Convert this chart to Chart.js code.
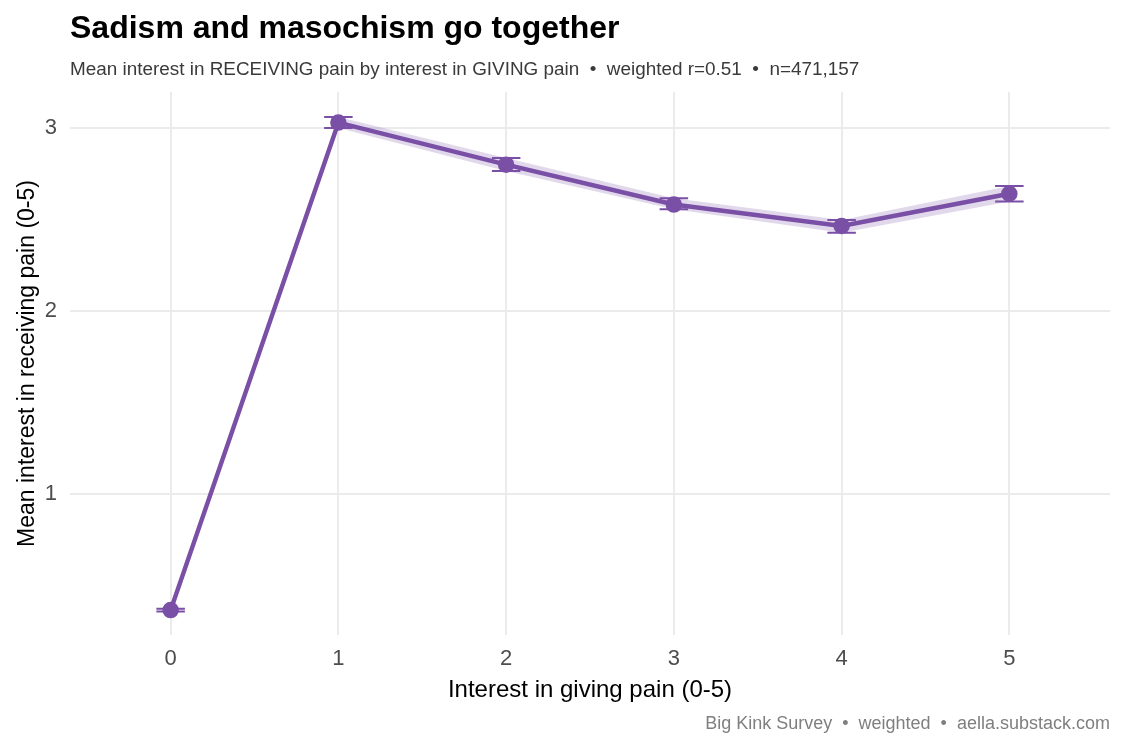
<!DOCTYPE html>
<html>
<head>
<meta charset="utf-8">
<script src="https://cdn.jsdelivr.net/npm/chart.js@4.4.1/dist/chart.umd.min.js"></script>
<style>
  body { margin: 0; background: #fff; font-family: "Liberation Sans", Arial, sans-serif; }
  #wrap { position: relative; width: 1125px; height: 750px; }
  #chart { position: absolute; left: 0; top: 0; }
  .title { position: absolute; left: 70px; top: 9px; font-size: 32px; font-weight: bold; color: #000; white-space: nowrap; }
  .subtitle { position: absolute; left: 70px; top: 58px; font-size: 18.9px; color: #3a3a3a; white-space: nowrap; }
  .caption { position: absolute; right: 15px; top: 713px; font-size: 18px; color: #7f7f7f; white-space: nowrap; }
</style>
</head>
<body>
<div id="wrap">
  <canvas id="chart" width="1125" height="750"></canvas>
  <div class="title">Sadism and masochism go together</div>
  <div class="subtitle">Mean interest in RECEIVING pain by interest in GIVING pain &nbsp;•&nbsp; weighted r=0.51 &nbsp;•&nbsp; n=471,157</div>
  <div class="caption">Big Kink Survey &nbsp;•&nbsp; weighted &nbsp;•&nbsp; aella.substack.com</div>
</div>
<script>
const givingLevels = [0, 1, 2, 3, 4, 5];
const meanReceiving = [0.366, 3.03, 2.80, 2.582, 2.465, 2.641];
const ciLow = [0.358, 3.000, 2.765, 2.557, 2.428, 2.598];
const ciHigh = [0.374, 3.060, 2.836, 2.617, 2.497, 2.683];
const xTicks = [0, 1, 2, 3, 4, 5];
const yTicks = [1, 2, 3];

const purple = "#7a4fa6";
const ribbon = "rgba(122, 79, 166, 0.22)";
const capHalf = 0.085;

// error bars as one gapped line: top cap, stem, bottom cap per level
const errorBarPoints = [];
givingLevels.forEach((x, i) => {
    errorBarPoints.push({ x: x - capHalf, y: ciHigh[i] }, { x: x + capHalf, y: ciHigh[i] }, { x: x, y: null });
    errorBarPoints.push({ x: x, y: ciHigh[i] }, { x: x, y: ciLow[i] }, { x: x, y: null });
    errorBarPoints.push({ x: x - capHalf, y: ciLow[i] }, { x: x + capHalf, y: ciLow[i] }, { x: x, y: null });
});

const font = "'Liberation Sans', Arial, sans-serif";

new Chart(document.getElementById("chart"), {
    type: "line",
    data: {
        datasets: [
            {
                label: "ci low",
                data: givingLevels.map((x, i) => ({ x: x, y: ciLow[i] })),
                borderWidth: 0,
                pointRadius: 0,
                fill: false,
                order: 4
            },
            {
                label: "ci high",
                data: givingLevels.map((x, i) => ({ x: x, y: ciHigh[i] })),
                borderWidth: 0,
                pointRadius: 0,
                backgroundColor: ribbon,
                fill: "-1",
                order: 3
            },
            {
                label: "error bars",
                data: errorBarPoints,
                borderColor: purple,
                borderWidth: 2,
                pointRadius: 0,
                spanGaps: false,
                fill: false,
                order: 2
            },
            {
                label: "mean",
                data: givingLevels.map((x, i) => ({ x: x, y: meanReceiving[i] })),
                borderColor: purple,
                borderWidth: 4.5,
                pointRadius: 6,
                pointBackgroundColor: purple,
                pointBorderColor: purple,
                fill: false,
                order: 1
            }
        ]
    },
    options: {
        responsive: false,
        animation: false,
        layout: { padding: { top: 92, right: 15, bottom: 45, left: 0 } },
        plugins: { legend: { display: false }, tooltip: { enabled: false } },
        scales: {
            x: {
                type: "linear",
                min: -0.6,
                max: 5.6,
                afterBuildTicks: axis => { axis.ticks = xTicks.map(v => ({ value: v })); },
                afterFit: axis => { axis.height = 70; },
                grid: { color: "#ebebeb", lineWidth: 2, drawTicks: false },
                border: { display: false },
                ticks: { color: "#4d4d4d", font: { family: font, size: 22 }, padding: 11 },
                title: {
                    display: true,
                    text: "Interest in giving pain (0-5)",
                    color: "#000",
                    font: { family: font, size: 24 },
                    padding: { top: 4, bottom: 0 }
                }
            },
            y: {
                min: 0.23,
                max: 3.197,
                afterBuildTicks: axis => { axis.ticks = yTicks.map(v => ({ value: v })); },
                afterFit: axis => { axis.width = 70; },
                grid: { color: "#ebebeb", lineWidth: 2, drawTicks: false },
                border: { display: false },
                ticks: { color: "#4d4d4d", font: { family: font, size: 22 }, padding: 13 },
                title: {
                    display: true,
                    text: "Mean interest in receiving pain (0-5)",
                    color: "#000",
                    font: { family: font, size: 23 },
                    padding: { top: 14, bottom: 0 }
                }
            }
        }
    }
});
</script>
</body>
</html>
